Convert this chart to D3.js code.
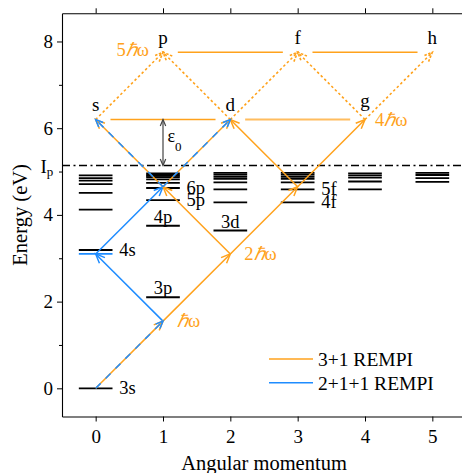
<!DOCTYPE html>
<html><head><meta charset="utf-8">
<script src="https://cdn.jsdelivr.net/npm/d3@7"></script>
<style>
body{margin:0;background:#fff}
svg{display:block}
text{font-family:"Liberation Serif","Times New Roman",serif}
</style>
</head><body>
<svg id="chart" width="462" height="473"></svg>
<script>
// ---------------- data ----------------
const xTicks = [0, 1, 2, 3, 4, 5];
const yTicksMajor = [0, 2, 4, 6, 8];
const yTicksMinor = [1, 3, 5, 7];
const orbitalNames = ["s", "p", "d", "f", "g", "h"];
const ionizationEnergy = 5.14;   // I_p (eV)
const photonEnergy = 1.55;       // ħω (eV)
// bound levels per angular momentum (eV)
const sLevels = [0, 3.19, 4.12, 4.51, 4.71, 4.79, 4.85, 4.91];
const pLevels = [2.10, 3.75, 4.34, 4.62, 4.74, 4.82, 4.87, 4.90, 4.93, 4.96];
const dLevels = [3.64, 4.29, 4.59, 4.75, 4.83, 4.88, 4.93, 4.97];
const fLevels = [4.29, 4.59, 4.75, 4.83, 4.88, 4.93, 4.97];
const gLevels = [4.59, 4.77, 4.86, 4.91, 4.96];
const hLevels = [4.76, 4.85, 4.92, 4.97];
const levelLabelNames = ["3s", "4s", "3p", "4p", "3d", "5p", "6p", "4f", "5f"];
const levelLabelL     = [0, 0, 1, 1, 2, 1, 1, 3, 3];
const levelLabelE     = [0, 3.19, 2.10, 3.75, 3.64, 4.34, 4.62, 4.29, 4.59];
const levelLabelPos   = ["right", "right", "above", "above", "above", "right", "right", "right", "right"];
// transitions: [l_from, photons_from, l_to, photons_to]
const path31  = [[0,0,1,1],[1,1,2,2],[2,2,1,3],[2,2,3,3],[1,3,0,4],[1,3,2,4],[3,3,2,4],[3,3,4,4]];
const path211 = [[0,0,1,1],[1,1,0,2],[0,2,1,3],[1,3,0,4],[1,3,2,4]];
const path5th = [[0,4,1,5],[2,4,1,5],[2,4,3,5],[4,4,3,5],[4,4,5,5]];
// same-energy links: [l_a, l_b, photons]
const equalEnergyLinks = [[0,2,4],[2,4,4],[1,3,5],[3,5,5]];
const photonLabelText = ["\u210Fω", "2\u210Fω", "4\u210Fω", "5\u210Fω"];
const photonLabelL = [1, 2, 4, 1];
const photonLabelN = [1, 2, 4, 5];
const photonLabelSide = ["right", "right", "right", "left"];
const legendNames = ["3+1 REMPI", "2+1+1 REMPI"];

// ---------------- style ----------------
const ORANGE = "#ffa21c", BLUE = "#1e8cff";
const svg = d3.select("#chart");
const x = d3.scaleLinear().domain([-0.5, 5.5]).range([62, 466]);
const y = d3.scaleLinear().domain([-0.65, 8.65]).range([416.5, 13.3]);
const E = n => n * photonEnergy;

// axes
const axG = svg.append("g");
axG.append("g").attr("transform", `translate(0,${y.range()[0]})`)
  .call(d3.axisBottom(x).tickValues(xTicks).tickSize(5).tickSizeOuter(0).tickPadding(8).tickFormat(d3.format("d")));
axG.append("g").attr("transform", `translate(0,${y.range()[1]})`)
  .call(d3.axisTop(x).tickValues(xTicks).tickSize(5).tickSizeOuter(0).tickFormat(""));
axG.append("g").attr("transform", `translate(${x.range()[0]},0)`)
  .call(d3.axisLeft(y).tickValues(yTicksMajor).tickSize(5).tickSizeOuter(0).tickPadding(4).tickFormat(d3.format("d")));
const leftMinorAxis = axG.append("g").attr("transform", `translate(${x.range()[0]},0)`)
  .call(d3.axisLeft(y).tickValues(yTicksMinor).tickSize(3).tickSizeOuter(0).tickFormat(""));
leftMinorAxis.select(".domain").remove();
axG.selectAll(".domain").attr("stroke", "#000").attr("stroke-width", 1.1);
axG.selectAll(".tick line").attr("stroke", "#000").attr("stroke-width", 1);
axG.selectAll(".tick text").attr("font-size", 19).attr("fill", "#000")
  .attr("font-family", "Liberation Serif, serif");

// I_p label
const ipLabel = svg.append("text").attr("x", 40.5).attr("y", 172.5).attr("font-size", 19);
ipLabel.append("tspan").text("I");
ipLabel.append("tspan").attr("dy", 3.5).attr("font-size", 13).text("p");

// axis titles
svg.append("text").attr("x", (x.range()[0] + x.range()[1]) / 2).attr("y", 470)
  .attr("text-anchor", "middle").attr("font-size", 20.5).text("Angular momentum");
svg.append("text").attr("transform", `translate(27,${(y.range()[0] + y.range()[1]) / 2}) rotate(-90)`)
  .attr("text-anchor", "middle").attr("font-size", 20.5).text("Energy (eV)");

// ionization line
svg.append("line").attr("x1", x.range()[0]).attr("x2", 462)
  .attr("y1", y(ionizationEnergy)).attr("y2", y(ionizationEnergy))
  .attr("stroke", "#000").attr("stroke-width", 1.3).attr("stroke-dasharray", "8,3.5,2,3.5");

// levels
const allLevels = [sLevels, pLevels, dLevels, fLevels, gLevels, hLevels];
const lvG = svg.append("g");
allLevels.forEach((arr, l) => {
  lvG.selectAll(null).data(arr).enter().append("line")
    .attr("x1", x(l - 0.25)).attr("x2", x(l + 0.25))
    .attr("y1", d => y(d)).attr("y2", d => y(d))
    .attr("stroke", "#000").attr("stroke-width", 1.8);
});
// 2-photon resonance marker near 4s
lvG.append("line").attr("x1", x(-0.25)).attr("x2", x(0.25))
  .attr("y1", y(E(2))).attr("y2", y(E(2))).attr("stroke", BLUE).attr("stroke-width", 1.6);

// level labels
levelLabelNames.forEach((t, i) => {
  const l = levelLabelL[i], e = levelLabelE[i];
  if (levelLabelPos[i] === "right") {
    svg.append("text").attr("x", x(l) + 23.5).attr("y", y(e) + 5.8).attr("font-size", 18.5).text(t);
  } else {
    svg.append("text").attr("x", x(l)).attr("y", y(e) - 3).attr("text-anchor", "middle").attr("font-size", 18.5).text(t);
  }
});

// arrow helpers
function head(g, x1, y1, x2, y2, color, len, w, dash) {
  const a = Math.atan2(y2 - y1, x2 - x1), h = 0.40;
  const p = `M${x2 - len * Math.cos(a - h)},${y2 - len * Math.sin(a - h)}L${x2},${y2}L${x2 - len * Math.cos(a + h)},${y2 - len * Math.sin(a + h)}`;
  const el = g.append("path").attr("d", p).attr("fill", "none").attr("stroke", color).attr("stroke-width", w);
  if (dash) el.attr("stroke-dasharray", dash);
}
function arrow(g, seg, color, opts) {
  const x1 = x(seg[0]), y1 = y(E(seg[1])), x2 = x(seg[2]), y2 = y(E(seg[3]));
  const ln = g.append("line").attr("x1", x1).attr("y1", y1).attr("x2", x2).attr("y2", y2)
    .attr("stroke", color).attr("stroke-width", opts.w || 1.5);
  if (opts.dash) ln.attr("stroke-dasharray", opts.dash);
  if (opts.head !== false) head(g, x1, y1, x2, y2, color, opts.len || 10, opts.w || 1.5, opts.headDash);
}
const key = s => s.join(",");
const path31Keys = path31.map(key);
const shared = new Set(path211.map(key).filter(k => path31Keys.includes(k)));

const arG = svg.append("g");
// equal-energy links
equalEnergyLinks.forEach((s, i) => {
  arG.append("line").attr("x1", x(s[0] + 0.22)).attr("x2", x(s[1] - 0.22))
    .attr("y1", y(E(s[2]))).attr("y2", y(E(s[2])))
    .attr("stroke", ORANGE).attr("stroke-width", i === 1 ? 2.2 : 1.5).attr("opacity", i === 1 ? 0.7 : 1);
});
// fifth photon (dotted)
path5th.forEach(s => arrow(arG, s, ORANGE, { dash: "2.5,2.5", headDash: "2.5,1.5", w: 1.6 }));
// 2+1+1 blue-only segments
path211.filter(s => !shared.has(key(s))).forEach(s => arrow(arG, s, BLUE, {}));
// 3+1 orange
path31.forEach(s => arrow(arG, s, ORANGE, {}));
// shared segments: blue dashed overlay
path211.filter(s => shared.has(key(s))).forEach(s => arrow(arG, s, BLUE, { dash: "7,7", len: 8 }));

// epsilon_0 arrow
const ex = x(1), ey1 = y(ionizationEnergy), ey2 = y(E(4));
arG.append("line").attr("x1", ex).attr("x2", ex).attr("y1", ey1).attr("y2", ey2)
  .attr("stroke", "#444").attr("stroke-width", 1.2);
head(arG, ex, ey1, ex, ey2, "#444", 7, 1.2);
head(arG, ex, ey2, ex, ey1, "#444", 7, 1.2);
const eps = svg.append("text").attr("x", ex + 4.5).attr("y", 141.5).attr("font-size", 18);
eps.append("tspan").text("ε");
eps.append("tspan").attr("dy", 9.5).attr("font-size", 13).text("0");

// orbital names
orbitalNames.forEach((t, l) => {
  const n = (l % 2 === 0) ? 4 : 5;
  const dy = t === "g" ? -12.5 : -9;
  svg.append("text").attr("x", x(l)).attr("y", y(E(n)) + (n === 4 ? dy : -8))
    .attr("text-anchor", "middle").attr("font-size", 19).text(t);
});

// photon labels
photonLabelText.forEach((t, i) => {
  const px = x(photonLabelL[i]), py = y(E(photonLabelN[i]));
  const right = photonLabelSide[i] === "right";
  const tx = svg.append("text").attr("fill", ORANGE).attr("font-size", 18.5)
    .attr("x", right ? px + (photonLabelN[i] === 4 ? 10 : 14) : px - 14)
    .attr("y", py + (right ? 6 : 4))
    .attr("text-anchor", right ? "start" : "end");
  const m = t.match(/^(\d*)(\u210F)(ω)$/);
  if (m[1]) tx.append("tspan").text(m[1]);
  tx.append("tspan").attr("font-style", "italic").text(m[2]);
  tx.append("tspan").text(m[3]);
});

// legend
const legColors = [ORANGE, BLUE];
legendNames.forEach((t, i) => {
  const ly = 359 + i * 23.8;
  svg.append("line").attr("x1", 269).attr("x2", 313).attr("y1", ly).attr("y2", ly)
    .attr("stroke", legColors[i]).attr("stroke-width", 1.6);
  svg.append("text").attr("x", 318).attr("y", ly + 6.8).attr("font-size", 19.5).text(t);
});
</script>
</body></html>
